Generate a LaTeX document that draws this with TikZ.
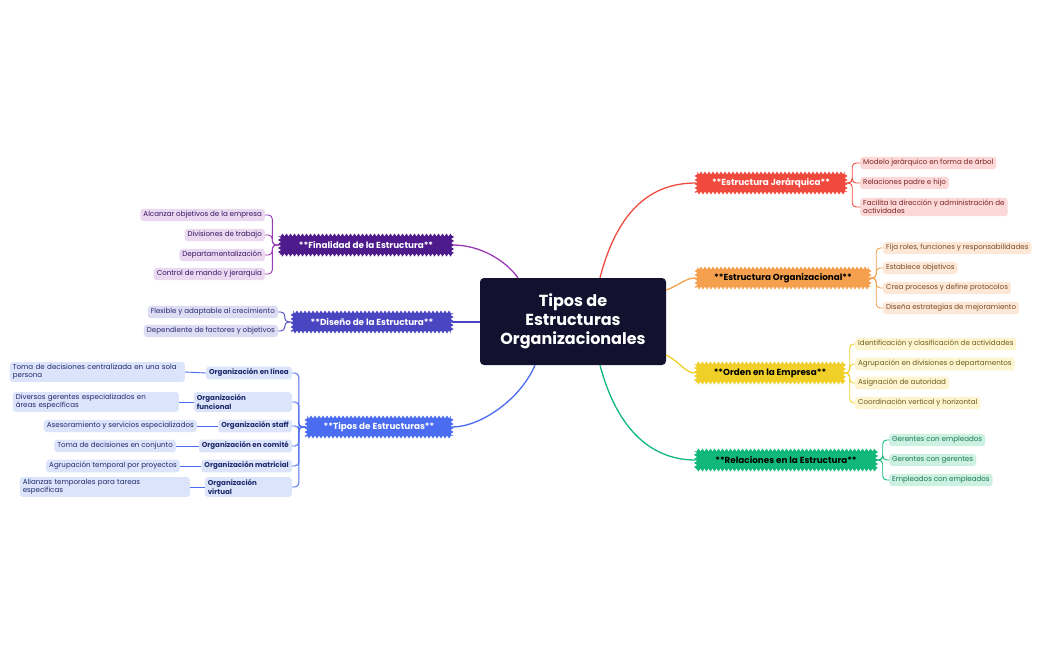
\documentclass[tikz,border=0pt]{standalone}
\usepackage{fontspec}
\setmainfont{Poppins}
\usetikzlibrary{decorations.pathmorphing}
\definecolor{cred}{HTML}{F04A3E}\definecolor{lred}{HTML}{FDD8D8}\definecolor{tred}{HTML}{7A2222}
\definecolor{corg}{HTML}{F5A04E}\definecolor{lorg}{HTML}{FDE8D8}\definecolor{torg}{HTML}{7A4A22}
\definecolor{cyel}{HTML}{F0D028}\definecolor{lyel}{HTML}{FDF5D0}\definecolor{tyel}{HTML}{6E5A1A}
\definecolor{cgrn}{HTML}{12B87A}\definecolor{lgrn}{HTML}{CCF0E2}\definecolor{tgrn}{HTML}{1A7A55}
\definecolor{cpur}{HTML}{4E1A8C}\definecolor{lpur}{HTML}{EAD8F0}\definecolor{lnpur}{HTML}{9A3AB8}
\definecolor{cind}{HTML}{4A46C2}\definecolor{lind}{HTML}{DCDCF2}
\definecolor{cblu}{HTML}{4A6CF0}\definecolor{lblu}{HTML}{DCE4FC}\definecolor{tblu}{HTML}{1E2A6A}
\definecolor{cnav}{HTML}{12122E}
\tikzset{
 leaf/.style={fill=#1,rounded corners=3pt,inner xsep=3pt,inner ysep=2.5pt,font=\fontsize{7.1}{7.6}\selectfont,align=left},
 topic/.style={fill=#1,font=\fontsize{8.8}{9}\selectfont\bfseries,inner xsep=6pt,inner ysep=5pt,minimum height=20pt,
   decorate,decoration={zigzag,segment length=4pt,amplitude=1.5pt}},
 sub/.style={fill=lblu,rounded corners=3pt,inner xsep=3pt,inner ysep=2.5pt,font=\fontsize{7.1}{7.6}\selectfont\bfseries,text=tblu,align=left},
 br/.style={rounded corners=4pt,line width=0.9pt},
 main/.style={line width=1.3pt}
}
\begin{document}
\begin{tikzpicture}[x=1pt,y=-1pt]
\useasboundingbox[fill=white] (0,0) rectangle (1049,650);
\node[fill=cnav,rounded corners=4pt,minimum width=186pt,minimum height=87pt,text=white,align=center,
 font=\fontsize{16}{19}\selectfont\bfseries] (c) at (573,321.5) {Tipos de\\Estructuras\\Organizacionales};
\node[topic=cred,text=white,minimum width=150pt] (t1) at (771,183) {**Estructura Jerárquica**};
\node[topic=corg,minimum width=174pt] (t2) at (783,278) {**Estructura Organizacional**};
\node[topic=cyel,minimum width=149pt] (t3) at (770,373) {**Orden en la Empresa**};
\node[topic=cgrn,minimum width=181pt] (t4) at (786,460) {**Relaciones en la Estructura**};
\node[topic=cpur,text=white,minimum width=173pt] (l1) at (366,245) {**Finalidad de la Estructura**};
\node[topic=cind,text=white,minimum width=160pt] (l2) at (372,322) {**Diseño de la Estructura**};
\node[topic=cblu,text=white,minimum width=146pt] (l3) at (379,427) {**Tipos de Estructuras**};
\draw[main,cred] (c.north)+(27,0) coordinate (a1) (a1) .. controls (620,200) and (660,183) .. (t1.west);
\draw[main,corg] (c.east|-0,290) coordinate (a2) (a2) .. controls (680,285) and (685,278) .. (t2.west);
\draw[main,cyel] (c.east|-0,355) coordinate (a3) (a3) .. controls (680,362) and (685,373) .. (t3.west);
\draw[main,cgrn] (c.south)+(27,0) coordinate (a4) (a4) .. controls (620,440) and (660,460) .. (t4.west);
\draw[main,lnpur] (c.north)+(-55,0) coordinate (b1) (b1) .. controls (505,260) and (480,245) .. (l1.east);
\draw[main,cind] (c.west|-0,322) coordinate (b2) (b2) -- (l2.east);
\draw[main,cblu] (c.south)+(-38,0) coordinate (b3) (b3) .. controls (520,400) and (480,427) .. (l3.east);
\foreach \n/\y/\t in {r1/163/Modelo jerárquico en forma de árbol, r2/183/Relaciones padre e hijo}
 {\node[leaf=lred,text=tred,anchor=west] (\n) at (860,\y) {\t}; \draw[br,cred] (t1.east) -- ++(6,0) |- (\n.west);}
\node[leaf=lred,text=tred,anchor=west] (r3) at (860,207) {Facilita la dirección y administración de\\actividades};
\draw[br,cred] (t1.east) -- ++(6,0) |- (r3.west);
\foreach \n/\y/\t in {o1/248/{Fija roles, funciones y responsabilidades}, o2/268/Establece objetivos, o3/288/Crea procesos y define protocolos, o4/308/Diseña estrategias de mejoramiento}
 {\node[leaf=lorg,text=torg,anchor=west] (\n) at (883,\y) {\t}; \draw[br,corg] (t2.east) -- ++(6,0) |- (\n.west);}
\foreach \n/\y/\t in {y1/344/Identificación y clasificación de actividades, y2/364/Agrupación en divisiones o departamentos, y3/383/Asignación de autoridad, y4/403/Coordinación vertical y horizontal}
 {\node[leaf=lyel,text=tyel,anchor=west] (\n) at (855,\y) {\t}; \draw[br,cyel] (t3.east) -- ++(5,0) |- (\n.west);}
\foreach \n/\y/\t in {g1/440/Gerentes con empleados, g2/460/Gerentes con gerentes, g3/480/Empleados con empleados}
 {\node[leaf=lgrn,text=tgrn,anchor=west] (\n) at (889,\y) {\t}; \draw[br,cgrn] (t4.east) -- ++(6,0) |- (\n.west);}
\foreach \n/\y/\t in {p1/215/Alcanzar objetivos de la empresa, p2/235/Divisiones de trabajo, p3/255/Departamentalización, p4/274/Control de mando y jerarquía}
 {\node[leaf=lpur,text=cpur!70!black,anchor=east] (\n) at (265,\y) {\t}; \draw[br,lnpur] (l1.west) -- ++(-7,0) |- (\n.east);}
\foreach \n/\y/\t in {d1/312/Flexible y adaptable al crecimiento, d2/331/Dependiente de factores y objetivos}
 {\node[leaf=lind,text=cind!60!black,anchor=east] (\n) at (278,\y) {\t}; \draw[br,cind] (l2.west) -- ++(-7,0) |- (\n.east);}
\node[sub,anchor=east] (s1) at (292,373) {Organización en línea};
\node[sub,anchor=east,text width=92pt] (s2) at (292,402) {Organización\\funcional};
\node[sub,anchor=east] (s3) at (292,426) {Organización staff};
\node[sub,anchor=east] (s4) at (292,446) {Organización en comité};
\node[sub,anchor=east] (s5) at (292,466) {Organización matricial};
\node[sub,anchor=east,text width=81pt] (s6) at (292,487) {Organización\\virtual};
\foreach \n in {s1,s2,s3,s4,s5,s6} \draw[br,cblu] (l3.west) -- ++(-7,0) |- (\n.east);
\node[leaf=lblu,text=tblu,anchor=east,text width=169pt] (u1) at (185,372) {Toma de decisiones centralizada en una sola\\persona};
\node[leaf=lblu,text=tblu,anchor=east,text width=160pt] (u2) at (179,402) {Diversos gerentes especializados en\\áreas específicas};
\node[leaf=lblu,text=tblu,anchor=east] (u3) at (197,426) {Asesoramiento y servicios especializados};
\node[leaf=lblu,text=tblu,anchor=east] (u4) at (176,446) {Toma de decisiones en conjunto};
\node[leaf=lblu,text=tblu,anchor=east] (u5) at (180,466) {Agrupación temporal por proyectos};
\node[leaf=lblu,text=tblu,anchor=east,text width=164pt] (u6) at (190,487) {Alianzas temporales para tareas\\específicas};
\foreach \a/\b in {s1/u1,s2/u2,s3/u3,s4/u4,s5/u5,s6/u6} \draw[cblu,line width=0.9pt] (\a.west) -- (\b.east);
\end{tikzpicture}
\end{document}
